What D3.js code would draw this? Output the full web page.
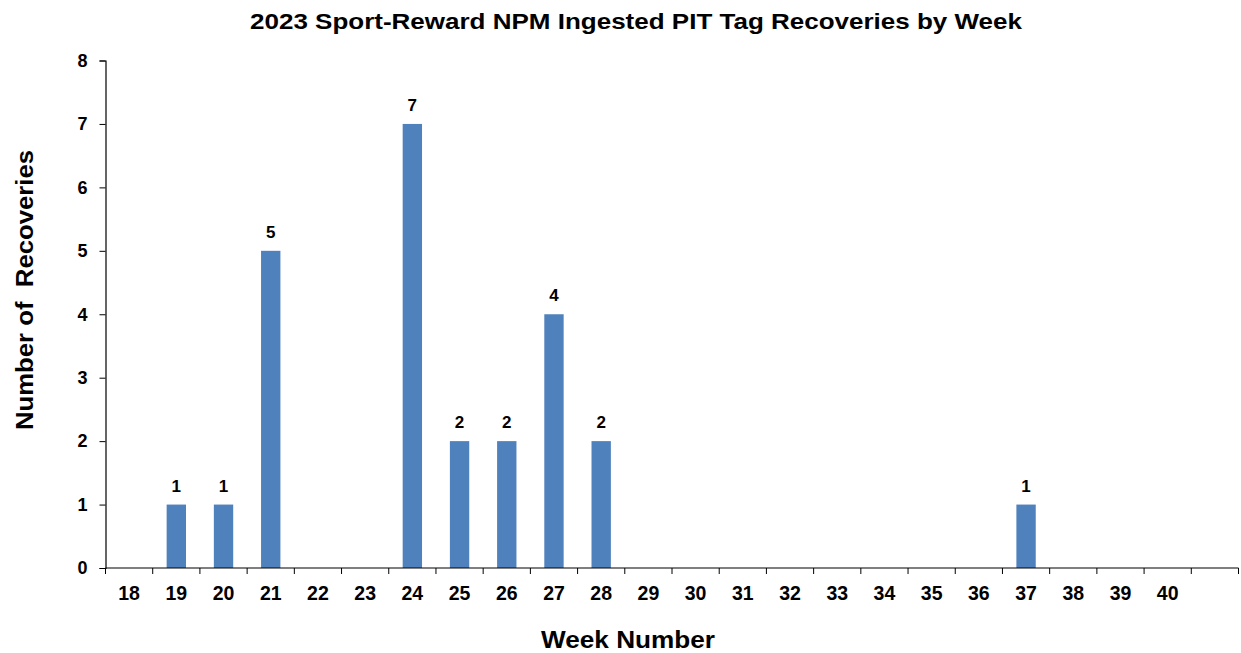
<!DOCTYPE html>
<html><head><meta charset="utf-8">
<script src="https://cdn.jsdelivr.net/npm/d3@7"></script>
<style>body{margin:0;background:#fff;}svg{display:block;font-family:Arial,"Liberation Sans",sans-serif;}</style>
</head><body><svg id="c" width="1241" height="653"></svg>
<script>
const weeks = ["18","19","20","21","22","23","24","25","26","27","28","29","30","31","32","33","34","35","36","37","38","39","40",""];
const recoveries = [0,1,1,5,0,0,7,2,2,4,2,0,0,0,0,0,0,0,0,1,0,0,0,0];
const yTicks = [0,1,2,3,4,5,6,7,8];

const svg = d3.select("#c");
const x0 = 105.5, x1 = 1238.5, yTop = 60.5, yBot = 568;
const x = d3.scaleBand().domain(d3.range(weeks.length)).range([x0, x1]).paddingInner(0).paddingOuter(0);
const y = d3.scaleLinear().domain([0, 8]).range([yBot, yTop]);
const barW = x.bandwidth() * 0.41;
const FF = "Arial,'Liberation Sans',sans-serif";

svg.append("text").attr("x", 636).attr("y", 28.5).attr("text-anchor", "middle")
  .attr("font-size", 22).attr("font-weight", "bold")
  .attr("textLength", 772).attr("lengthAdjust", "spacingAndGlyphs")
  .text("2023 Sport-Reward NPM Ingested PIT Tag Recoveries by Week");

// bars
svg.append("g").selectAll("rect").data(recoveries.map((v,i)=>({v,i})).filter(d=>d.v>0)).join("rect")
  .attr("x", d => x(d.i) + x.bandwidth()/2 - barW/2)
  .attr("y", d => y(d.v)).attr("width", barW).attr("height", d => y(0) - y(d.v))
  .attr("fill", "#4F81BD");

// value labels
svg.append("g").selectAll("text").data(recoveries.map((v,i)=>({v,i})).filter(d=>d.v>0)).join("text")
  .attr("x", d => x(d.i) + x.bandwidth()/2).attr("y", d => y(d.v) - 13)
  .attr("text-anchor", "middle").attr("font-size", 17).attr("font-weight", "bold").text(d => d.v);

// y axis
const ya = svg.append("g").attr("transform", `translate(${x0},0)`)
  .call(d3.axisLeft(y).tickValues(yTicks).tickSize(6).tickPadding(12).tickFormat(d3.format("d")));
ya.select(".domain").attr("stroke", "#000").attr("stroke-width", 1.2);
ya.selectAll(".tick line").attr("stroke", "#000");
ya.selectAll(".tick text").attr("font-size", 18).attr("font-weight", "bold").attr("font-family", FF).attr("fill", "#000");

// x axis labels
const xa = svg.append("g").attr("transform", `translate(0,${yBot})`)
  .call(d3.axisBottom(x).tickSize(0).tickPadding(18).tickFormat(i => weeks[i]));
xa.select(".domain").remove();
xa.selectAll(".tick text").attr("font-size", 19.5).attr("font-weight", "bold").attr("font-family", FF).attr("fill", "#000");
// x axis line and boundary ticks
svg.append("line").attr("x1", x0).attr("x2", x1).attr("y1", yBot).attr("y2", yBot).attr("stroke", "#000").attr("stroke-width", 1.2);
const bounds = d3.range(weeks.length + 1).map(i => i < weeks.length ? x(i) : x1);
svg.append("g").selectAll("line").data(bounds).join("line")
  .attr("x1", d => d).attr("x2", d => d).attr("y1", yBot).attr("y2", yBot + 6).attr("stroke", "#000");

svg.append("text").attr("x", 628).attr("y", 648).attr("text-anchor", "middle")
  .attr("font-size", 24).attr("font-weight", "bold")
  .attr("textLength", 174).attr("lengthAdjust", "spacingAndGlyphs").text("Week Number");
svg.append("text").attr("transform", "translate(33,290) rotate(-90)").attr("text-anchor", "middle")
  .attr("font-size", 24).attr("font-weight", "bold")
  .attr("textLength", 280).attr("lengthAdjust", "spacingAndGlyphs")
  .attr("xml:space","preserve").style("white-space","pre").text("Number of  Recoveries");
</script></body></html>
